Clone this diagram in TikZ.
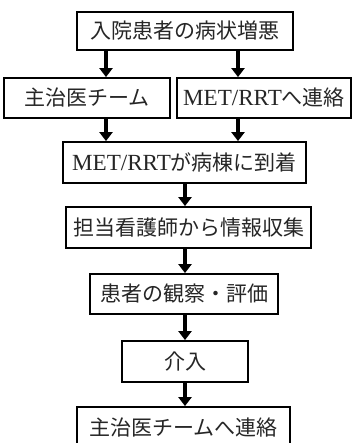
\documentclass[tikz,border=0pt]{standalone}
\usepackage{fontspec}
\usetikzlibrary{arrows.meta}
\newfontfamily\jpfont{Noto Sans CJK JP}
\newfontfamily\latfont[Scale=1.1]{Liberation Serif}
\tikzset{
  flowbox/.style={draw=black, line width=1.8pt, fill=white, inner sep=0pt,
    font=\jpfont\fontsize{21}{22}\selectfont, text=black!85},
  flowarrow/.style={line width=4.5pt, -{Triangle[width=13pt,length=9pt]}}
}
\begin{document}
\begin{tikzpicture}[x=1pt,y=-1pt]
\useasboundingbox (0,0) rectangle (353,443);
\clip (0,0) rectangle (353,443);
\fill[white] (0,0) rectangle (353,443);
\node[flowbox, minimum width=216pt, minimum height=38pt] (b1) at (185,31) {入院患者の病状増悪};
\node[flowbox, minimum width=166pt, minimum height=40pt] (b2a) at (87,98) {主治医チーム};
\node[flowbox, minimum width=174pt, minimum height=40pt] (b2b) at (264,98) {{\latfont MET/RRT}へ連絡};
\node[flowbox, minimum width=243pt, minimum height=41pt] (b3) at (184.5,162.5) {{\latfont MET/RRT}が病棟に到着};
\node[flowbox, minimum width=245pt, minimum height=41pt] (b4) at (188.5,227.5) {担当看護師から情報収集};
\node[flowbox, minimum width=188pt, minimum height=40pt] (b5) at (184,294) {患者の観察・評価};
\node[flowbox, minimum width=126pt, minimum height=41pt] (b6) at (185,361.5) {介入};
\node[flowbox, minimum width=213pt, minimum height=42pt] (b7) at (183.5,428) {主治医チームへ連絡};
\coordinate (la) at (106,0);
\coordinate (ra) at (238,0);
\coordinate (ma) at (185,0);
\draw[flowarrow] (b1.south -| la) -- (b2a.north -| la);
\draw[flowarrow] (b1.south -| ra) -- (b2b.north -| ra);
\draw[flowarrow] (b2a.south -| la) -- (b3.north -| la);
\draw[flowarrow] (b2b.south -| ra) -- (b3.north -| ra);
\draw[flowarrow] (b3.south -| ma) -- (b4.north -| ma);
\draw[flowarrow] (b4.south -| ma) -- (b5.north -| ma);
\draw[flowarrow] (b5.south -| ma) -- (b6.north -| ma);
\draw[flowarrow] (b6.south -| ma) -- (b7.north -| ma);
\end{tikzpicture}
\end{document}
